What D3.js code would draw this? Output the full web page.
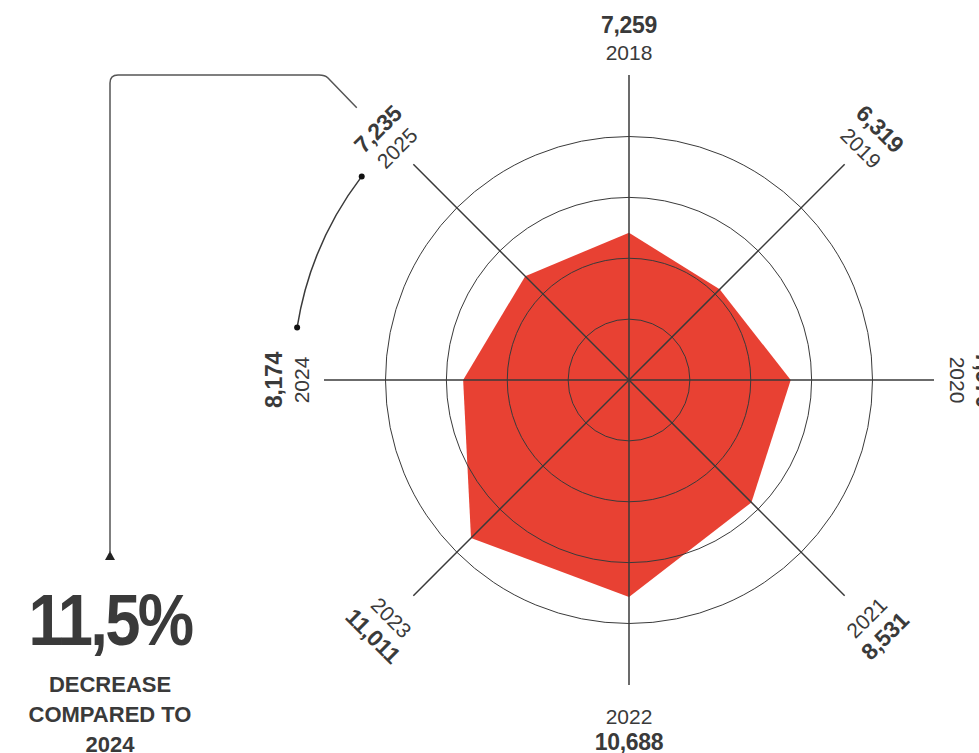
<!DOCTYPE html>
<html>
<head>
<meta charset="utf-8">
<script src="https://cdn.jsdelivr.net/npm/d3@7"></script>
<style>
  html, body { margin: 0; padding: 0; background: #ffffff; }
  svg { display: block; font-family: "Liberation Sans", Arial, sans-serif; }
</style>
</head>
<body>
<svg id="chart" width="979" height="753"></svg>
<script>
// ---- data ----
const years  = ["2018", "2019", "2020", "2021", "2022", "2023", "2024", "2025"];
const values = [7259, 6319, 7970, 8531, 10688, 11011, 8174, 7235];
const valueLabels = ["7,259", "6,319", "7,970", "8,531", "10,688", "11,011", "8,174", "7,235"];
const gridValues = [3000, 6000, 9000, 12000];
const bigFigure = "11,5%";
const noteLines = ["DECREASE", "COMPARED TO", "2024"];

// ---- layout ----
const cx = 629, cy = 380;
const axisLen = 305;
const ink = "#3a3a3a";
const red = "#e84133";

const svg = d3.select("#chart");
const g = svg.append("g").attr("transform", `translate(${cx},${cy})`);

const r = d3.scaleLinear().domain([0, 12000]).range([0, 243.5]);
const angle = d3.scalePoint().domain(years).range([0, 2 * Math.PI * 7 / 8]);
const pt = (a, rad) => [rad * Math.sin(a), -rad * Math.cos(a)];

// polygon
const radial = d3.lineRadial()
  .angle((d, i) => angle(years[i]))
  .radius(d => r(d))
  .curve(d3.curveLinearClosed);
g.append("path")
  .attr("d", radial(values))
  .attr("fill", red);

// grid circles
g.selectAll("circle.grid")
  .data(gridValues)
  .join("circle")
  .attr("class", "grid")
  .attr("r", d => r(d))
  .attr("fill", "none")
  .attr("stroke", ink)
  .attr("stroke-width", 1);

// axis lines
g.selectAll("line.axis")
  .data(years)
  .join("line")
  .attr("class", "axis")
  .attr("x1", d => pt(angle(d), axisLen)[0])
  .attr("y1", d => pt(angle(d), axisLen)[1])
  .attr("x2", 0)
  .attr("y2", 0)
  .attr("stroke", ink)
  .attr("stroke-width", 1.5);

// labels
years.forEach((y, i) => {
  const a = angle(y);
  const deg = a * 180 / Math.PI;
  const bottom = deg > 90 && deg < 270;
  const rot = bottom ? deg - 180 : (deg > 180 ? deg - 360 : deg);
  const rYear = bottom ? 336 : 328;
  const rVal = bottom ? 362 : 355;
  const [yx, yy] = pt(a, rYear);
  const [vx, vy] = pt(a, rVal);
  g.append("text")
    .attr("transform", `translate(${yx},${yy}) rotate(${rot})`)
    .attr("text-anchor", "middle")
    .attr("dominant-baseline", "central")
    .attr("font-size", 21)
    .attr("fill", ink)
    .text(y);
  g.append("text")
    .attr("transform", `translate(${vx},${vy}) rotate(${rot})`)
    .attr("text-anchor", "middle")
    .attr("dominant-baseline", "central")
    .attr("font-size", 23)
    .attr("font-weight", "bold")
    .attr("letter-spacing", -0.3)
    .attr("fill", ink)
    .text(valueLabels[i]);
});

// arc between 2025 and 2024 labels
const arcR = 336;
const a0 = -52.7 * Math.PI / 180, a1 = -81 * Math.PI / 180;
const p = d3.path();
p.arc(0, 0, arcR, a0 - Math.PI / 2, a1 - Math.PI / 2, true);
g.append("path")
  .attr("d", p.toString())
  .attr("fill", "none")
  .attr("stroke", ink)
  .attr("stroke-width", 1.5);
[a0, a1].forEach(a => {
  const [x, y] = pt(a, arcR);
  g.append("circle").attr("cx", x).attr("cy", y).attr("r", 3).attr("fill", "#111");
});

// annotation leader line
const start = pt(-Math.PI / 4, 385);
const sx = cx + start[0], sy = cy + start[1];
const leader = d3.path();
leader.moveTo(sx, sy);
leader.lineTo(328, 78);
leader.quadraticCurveTo(325, 75, 319, 75);
leader.lineTo(118, 75);
leader.quadraticCurveTo(110, 75, 110, 83);
leader.lineTo(110, 552);
svg.append("path")
  .attr("d", leader.toString())
  .attr("fill", "none")
  .attr("stroke", "#555")
  .attr("stroke-width", 1.5);
svg.append("path")
  .attr("d", "M105,560 L115,560 L110,551 Z")
  .attr("fill", "#222");

// big figure
svg.append("text")
  .attr("transform", "translate(110,645) scale(0.88,1)")
  .attr("text-anchor", "middle")
  .attr("font-size", 72)
  .attr("font-weight", "bold")
  .attr("letter-spacing", -3)
  .attr("fill", ink)
  .text(bigFigure);

svg.selectAll("text.note")
  .data(noteLines)
  .join("text")
  .attr("class", "note")
  .attr("x", 110)
  .attr("y", (d, i) => 692 + i * 30)
  .attr("text-anchor", "middle")
  .attr("font-size", 22)
  .attr("font-weight", "bold")
  .attr("fill", ink)
  .text(d => d);
</script>
</body>
</html>
